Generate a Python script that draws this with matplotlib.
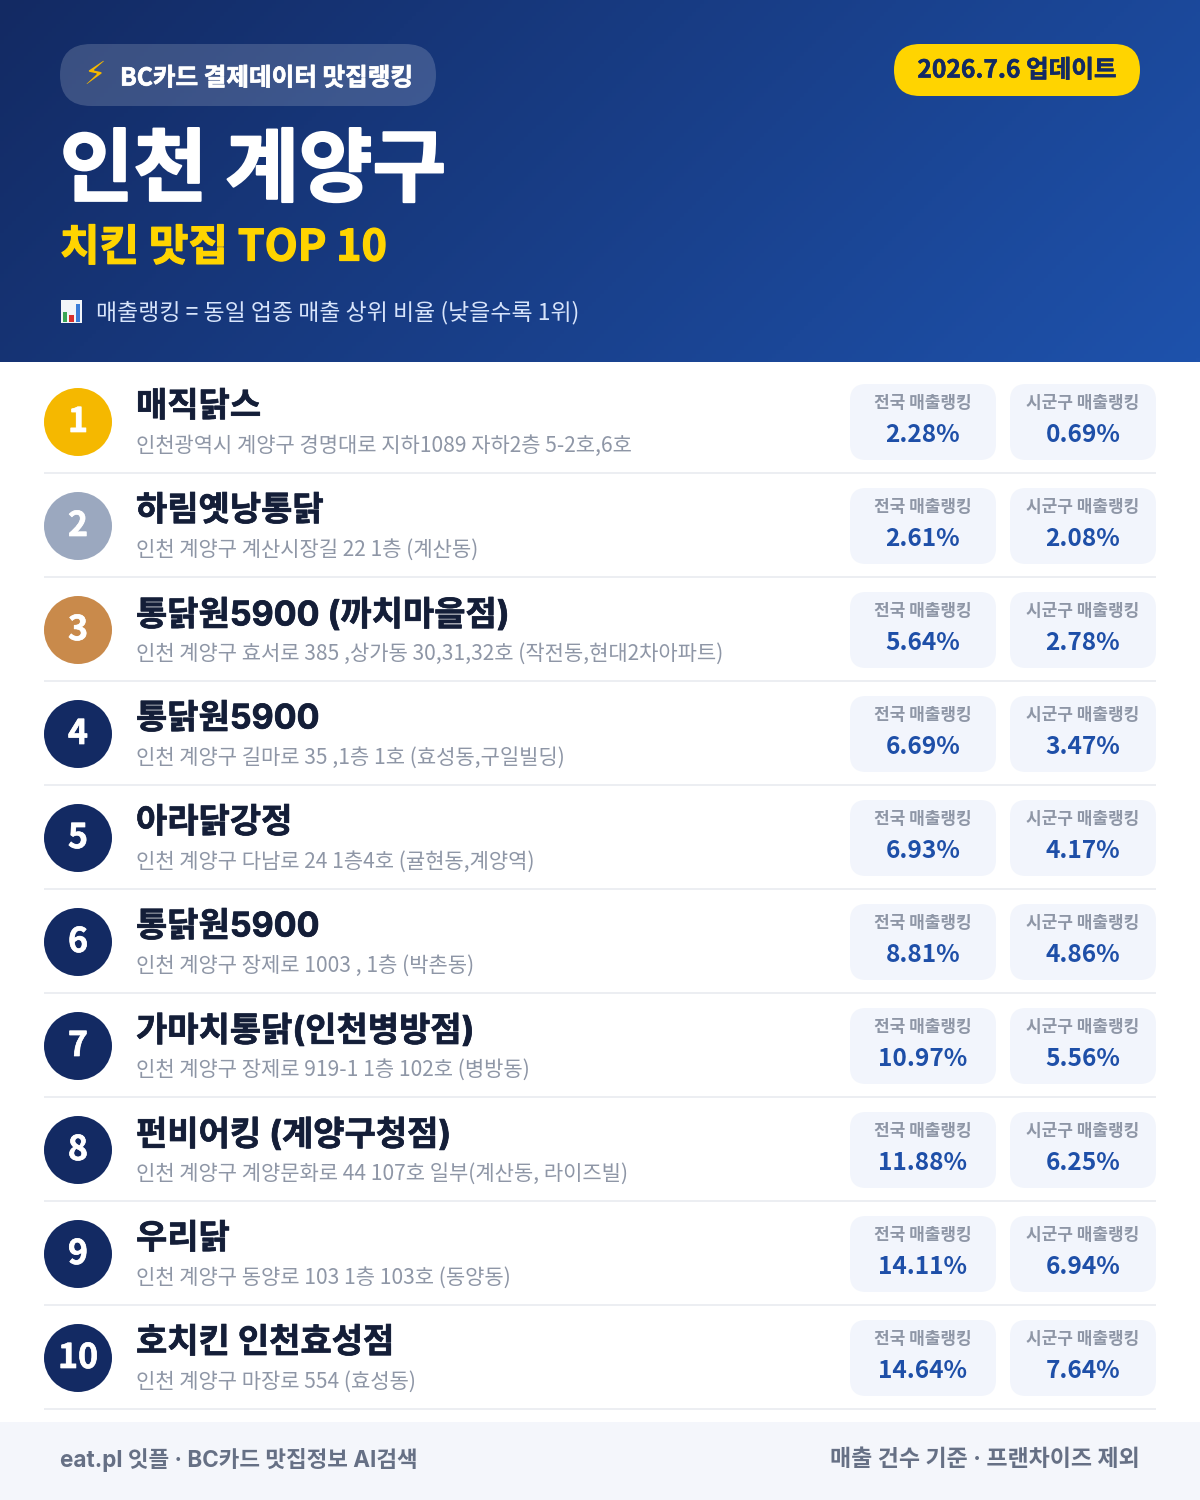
import numpy as np
import matplotlib
matplotlib.use("Agg")
import matplotlib.pyplot as plt
import matplotlib.patheffects as pe
from matplotlib.patches import FancyBboxPatch, Circle, Rectangle

plt.rcParams['font.family'] = ['Noto Sans CJK KR', 'DejaVu Sans']

names = ["매직닭스", "하림옛낭통닭", "통닭원5900 (까치마을점)", "통닭원5900", "아라닭강정",
         "통닭원5900", "가마치통닭(인천병방점)", "펀비어킹 (계양구청점)", "우리닭", "호치킨 인천효성점"]
addresses = ["인천광역시 계양구 경명대로 지하1089 자하2층 5-2호,6호",
             "인천 계양구 계산시장길 22 1층 (계산동)",
             "인천 계양구 효서로 385 ,상가동 30,31,32호 (작전동,현대2차아파트)",
             "인천 계양구 길마로 35 ,1층 1호 (효성동,구일빌딩)",
             "인천 계양구 다남로 24 1층4호 (귤현동,계양역)",
             "인천 계양구 장제로 1003 , 1층 (박촌동)",
             "인천 계양구 장제로 919-1 1층 102호 (병방동)",
             "인천 계양구 계양문화로 44 107호 일부(계산동, 라이즈빌)",
             "인천 계양구 동양로 103 1층 103호 (동양동)",
             "인천 계양구 마장로 554 (효성동)"]
national = [2.28, 2.61, 5.64, 6.69, 6.93, 8.81, 10.97, 11.88, 14.11, 14.64]
district = [0.69, 2.08, 2.78, 3.47, 4.17, 4.86, 5.56, 6.25, 6.94, 7.64]
rank_colors = ["#f5b800", "#9ba8bf", "#c98a4b"] + ["#132a63"] * 7

def px(s):
    return s * 0.72

fig = plt.figure(figsize=(12, 15), dpi=100, facecolor="white")
ax = fig.add_axes([0, 0, 1, 1])
ax.set_xlim(0, 1200)
ax.set_ylim(1500, 0)
ax.axis("off")

# header gradient
gx, gy = np.meshgrid(np.linspace(0, 1, 300), np.linspace(0, 1, 90))
t = (gx * 1200 + gy * 362) / (1200 + 362)
c0 = np.array([0x13, 0x2a, 0x63]) / 255
c1 = np.array([0x1e, 0x52, 0xac]) / 255
grad = c0[None, None, :] + (c1 - c0)[None, None, :] * t[:, :, None]
ax.imshow(grad, extent=(0, 1200, 362, 0), aspect="auto", zorder=0)
ax.set_xlim(0, 1200)
ax.set_ylim(1500, 0)

def rbox(x, y, w, h, r, color, alpha=1, z=1):
    ax.add_patch(FancyBboxPatch((x + r, y + r), w - 2 * r, h - 2 * r,
                                boxstyle=f"round,pad={r},rounding_size={r}",
                                fc=color, ec="none", alpha=alpha, zorder=z))

def txt(x, y, s, size, color, weight="normal", ha="left", thick=0, family=None):
    t = ax.text(x, y, s, fontsize=px(size), color=color, fontweight=weight, ha=ha,
                va="center_baseline", zorder=3)
    if family:
        t.set_family(family)
    if thick:
        # source text is heavier than the Bold face
        t.set_path_effects([pe.withStroke(linewidth=thick, foreground=color)])

rbox(60, 44, 376, 62, 31, "#ffffff", alpha=0.17)
ax.text(95, 75, "⚡", fontsize=px(32), color="#f5b800", ha="center", va="center", zorder=3,
        family="DejaVu Sans")
txt(120, 76, "BC카드 결제데이터 맛집랭킹", 24.6, "white", "bold", thick=0.5)

rbox(894, 44, 246, 52, 26, "#ffd400")
txt(1017, 68, "2026.7.6 업데이트", 24.6, "#132a63", "bold", ha="center", thick=0.4)

txt(60, 163, "인천 계양구", 80, "white", "bold", thick=1.5)
txt(60, 243, "치킨 맛집 TOP 10", 43, "#ffd400", "bold", thick=0.9)

# chart icon
ax.add_patch(Rectangle((61, 300), 21, 23, fc="#f2f5f8", ec="none", zorder=2))
ax.add_patch(Rectangle((63, 312), 4, 10, fc="#3aa655", ec="none", zorder=3))
ax.add_patch(Rectangle((69, 315), 5, 7, fc="#d9302c", ec="none", zorder=3))
ax.add_patch(Rectangle((76, 304), 4, 18, fc="#3b7dd8", ec="none", zorder=3))
txt(96, 310, "매출랭킹 = 동일 업종 매출 상위 비율 (낮을수록 1위)", 22.9, "#d7e4fb")

for i in range(10):
    y = 104 * i
    ax.add_patch(Circle((78, 422 + y), 34, fc=rank_colors[i], ec="none", zorder=2))
    txt(78, 418 + y, str(i + 1), 34, "white", "bold", ha="center", thick=0.5)
    txt(136, 404 + y, names[i], 34, "#141e38", "bold", thick=0.5,
        family=["Inter", "Noto Sans CJK KR"])
    txt(136, 443 + y, addresses[i], 21, "#8e96a6")
    for x0, lab, val in [(850, "전국 매출랭킹", national[i]), (1010, "시군구 매출랭킹", district[i])]:
        rbox(x0, 384 + y, 146, 76, 16, "#f2f5fc")
        txt(x0 + 73, 400.5 + y, lab, 17, "#8e96a6", "bold", ha="center")
        txt(x0 + 73, 432 + y, f"{val:.2f}%", 24.5, "#1e4fa8", "bold", ha="center")
    ax.add_patch(Rectangle((44, 472 + y), 1112, 2, fc="#eceef2", ec="none", zorder=1))

ax.add_patch(Rectangle((0, 1422), 1200, 78, fc="#f4f6fb", ec="none", zorder=1))
footer_fam = ["Inter", "Noto Sans CJK KR"]
txt(60, 1458, "eat.pl 잇플 · BC카드 맛집정보 AI검색", 22.5, "#667085", "bold", family=footer_fam)
txt(1140, 1458, "매출 건수 기준 · 프랜차이즈 제외", 23, "#667085", "bold", ha="right", family=footer_fam)

fig.savefig("out.png", dpi=100, facecolor="white")
